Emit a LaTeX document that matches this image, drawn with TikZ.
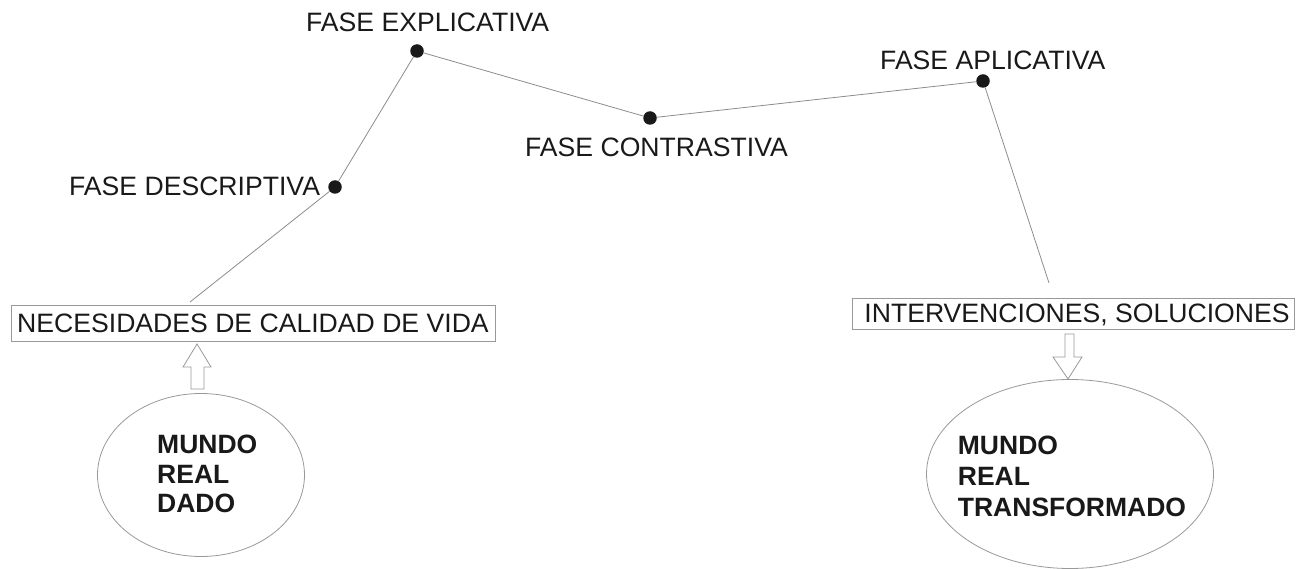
\documentclass[tikz,border=0pt]{standalone}
\usepackage{fontspec}
\setmainfont{Liberation Sans}
\usetikzlibrary{shapes.geometric}
\begin{document}
\begin{tikzpicture}[x=1pt,y=-1pt,
  conn/.style={draw=black!45, line width=0.8pt},
  dot/.style={circle, fill=black!90, inner sep=0pt, minimum size=13.5pt},
  lbl/.style={font=\fontsize{26.6}{30}\selectfont, inner sep=0pt, text=black!90},
  boxn/.style={draw=black!40, line width=0.8pt, inner sep=0pt, text depth=0pt,
    font=\fontsize{26.6}{30}\selectfont, text=black!90},
  world/.style={ellipse, draw=black!40, line width=0.8pt, inner sep=0pt},
  worldtext/.style={inner sep=0pt, align=left,
    font=\bfseries\fontsize{26.5}{29.5}\selectfont, text=black!90},
  hollow/.style={draw=black!40, line width=0.8pt, fill=white}]
\useasboundingbox (0,0) rectangle (1298,569);

% phase dots
\node[dot] (d1) at (335,187) {};
\node[dot] (d2) at (417,51) {};
\node[dot] (d3) at (650,118) {};
\node[dot] (d4) at (983,81) {};

% labels
\node[lbl, anchor=base west] (l1) at (69,196) {FASE DESCRIPTIVA};
\node[lbl, anchor=base west] (l2) at (306,32) {FASE EXPLICATIVA};
\node[lbl, anchor=base west] (l3) at (525,157) {FASE CONTRASTIVA};
\node[lbl, anchor=base west] (l4) at (880,70) {FASE APLICATIVA};

% boxes
\node[boxn, minimum width=484pt, minimum height=36pt] (bL) at (253,323) {NECESIDADES DE CALIDAD DE VIDA};
\node[boxn, minimum width=442pt, minimum height=31pt] (bR) at (1073,313.5) {\hspace*{8pt}INTERVENCIONES, SOLUCIONES};

% free ends of the path
\coordinate (c1) at (190,302);
\coordinate (c2) at (1049,283);

\draw[conn] (c1) -- (d1) -- (d2) -- (d3) -- (d4) -- (c2);

% worlds
\node[world, minimum width=207pt, minimum height=163pt] (wL) at (201,475) {};
\node[worldtext, anchor=west] (tL) at (157,474) {MUNDO\\REAL\\DADO};
\node[world, minimum width=287pt, minimum height=189pt] (wR) at (1070,474) {};
\node[worldtext, font=\bfseries\fontsize{26.5}{31}\selectfont] (tR) at (1072,476) {MUNDO\\REAL\\TRANSFORMADO};

% hollow arrows
\draw[hollow] (197,344) -- (211,367) -- (204,367) -- (204,389) -- (191,389) -- (191,367) -- (183,367) -- cycle;
\draw[hollow] (1068,379) -- (1082,357) -- (1074,357) -- (1074,334) -- (1065,334) -- (1065,357) -- (1053,357) -- cycle;
\end{tikzpicture}
\end{document}
